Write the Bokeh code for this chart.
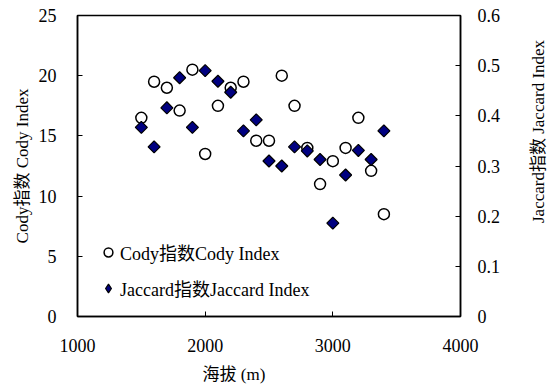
import math
from bokeh.plotting import figure
from bokeh.layouts import row
from bokeh.models import Range1d, LinearAxis, FixedTicker, Legend, LegendItem, Title, Label
from bokeh.embed import file_html
from bokeh.resources import INLINE

altitude = [1500, 1600, 1700, 1800, 1900, 2000, 2100, 2200, 2300, 2400,
            2500, 2600, 2700, 2800, 2900, 3000, 3100, 3200, 3300, 3400]
cody = [16.5, 19.5, 19.0, 17.1, 20.5, 13.5, 17.5, 19.0, 19.5, 14.6,
        14.6, 20.0, 17.5, 14.0, 11.0, 12.9, 14.0, 16.5, 12.1, 8.5]
jaccard = [0.377, 0.338, 0.416, 0.476, 0.377, 0.490, 0.469, 0.447, 0.370, 0.392,
           0.310, 0.300, 0.338, 0.330, 0.313, 0.186, 0.282, 0.331, 0.313, 0.370]

x_ticks = [1000, 2000, 3000, 4000]
y_ticks = [0, 5, 10, 15, 20, 25]
y2_ticks = [0, 0.1, 0.2, 0.3, 0.4, 0.5, 0.6]
y2_labels = ["0", "0.1", "0.2", "0.3", "0.4", "0.5", "0.6"]

FONT = "Liberation Serif, Noto Sans CJK SC"
FS = "18px"
LFS = "17px"

p = figure(width=520, height=392, output_backend="svg", toolbar_location=None,
           x_range=Range1d(1000, 4000), y_range=Range1d(0, 25),
           min_border_left=77, min_border_right=60, min_border_top=15, min_border_bottom=76)
p.background_fill_color = "white"
p.border_fill_color = "white"
p.outline_line_color = "black"
p.outline_line_width = 1.5
p.xgrid.visible = False
p.ygrid.visible = False

p.extra_y_ranges = {"jac": Range1d(0, 0.6)}

def style_axis(ax):
    ax.axis_line_color = "black"
    ax.axis_line_width = 1.5
    ax.major_tick_in = 5
    ax.major_tick_out = 0
    ax.major_tick_line_color = "black"
    ax.minor_tick_line_color = None
    ax.major_label_text_font = FONT
    ax.major_label_text_font_size = FS
    ax.major_label_text_color = "black"
    ax.axis_label_text_font = FONT
    ax.axis_label_text_font_size = LFS
    ax.axis_label_text_font_style = "normal"
    ax.axis_label_text_color = "black"

xa = p.xaxis[0]
xa.ticker = FixedTicker(ticks=x_ticks)
style_axis(xa)
xa.major_label_standoff = 22

ya = p.yaxis[0]
ya.ticker = FixedTicker(ticks=y_ticks)
style_axis(ya)
ya.major_label_standoff = 21
ya.axis_label = "Cody指数 Cody Index"
ya.axis_label_standoff = 4

ra = LinearAxis(y_range_name="jac", ticker=FixedTicker(ticks=y2_ticks))
ra.major_label_overrides = {t: l for t, l in zip(y2_ticks, y2_labels)}
style_axis(ra)
ra.major_label_standoff = 17
p.add_layout(ra, "right")

c = p.scatter(altitude, cody, marker="circle", size=11, fill_color="white",
              line_color="black", line_width=1.5)
d = p.scatter(altitude, jaccard, y_range_name="jac", marker="square", angle=math.pi / 4,
              size=8.5, fill_color="#000080", line_color="black", line_width=1.2)
# legend-only proxy so the key shows a diamond (legend glyphs ignore marker angle)
d_key = p.scatter(altitude, jaccard, y_range_name="jac", marker="diamond", size=11,
                  fill_color="#000080", line_color="black", line_width=1.2, visible=False)

legend = Legend(items=[LegendItem(label="Cody指数Cody Index", renderers=[c]),
                       LegendItem(label="Jaccard指数Jaccard Index", renderers=[d_key])],
                location=(20, 15), padding=0, margin=0, spacing=10,
                glyph_width=22, glyph_height=22, label_height=20, label_standoff=1,
                border_line_color=None, background_fill_alpha=0,
                label_text_font=FONT, label_text_font_size=FS, label_text_color="black")
p.add_layout(legend, "center")

xtitle = Title(text="海拔 (m)", align="left", offset=125, standoff=17,
               text_font=FONT, text_font_size=LFS, text_font_style="normal", text_color="black")
p.add_layout(xtitle, "below")

# narrow panel holding the right-hand axis title (reads bottom to top)
q = figure(width=35, height=392, output_backend="svg", toolbar_location=None,
           x_range=Range1d(0, 35), y_range=Range1d(0, 392),
           min_border=0, min_border_left=0, min_border_right=0,
           min_border_top=0, min_border_bottom=0,
           x_axis_type=None, y_axis_type=None)
q.outline_line_color = None
q.xgrid.visible = False
q.ygrid.visible = False
q.background_fill_color = "white"
q.border_fill_color = "white"
q.add_layout(Label(x=18, y=241, text="Jaccard指数 Jaccard Index", angle=math.pi / 2,
                   text_align="center", text_baseline="middle",
                   text_font=FONT, text_font_size=LFS, text_color="black"))

layout = row(p, q, spacing=0)
open("out.html", "w").write(file_html(layout, INLINE))
